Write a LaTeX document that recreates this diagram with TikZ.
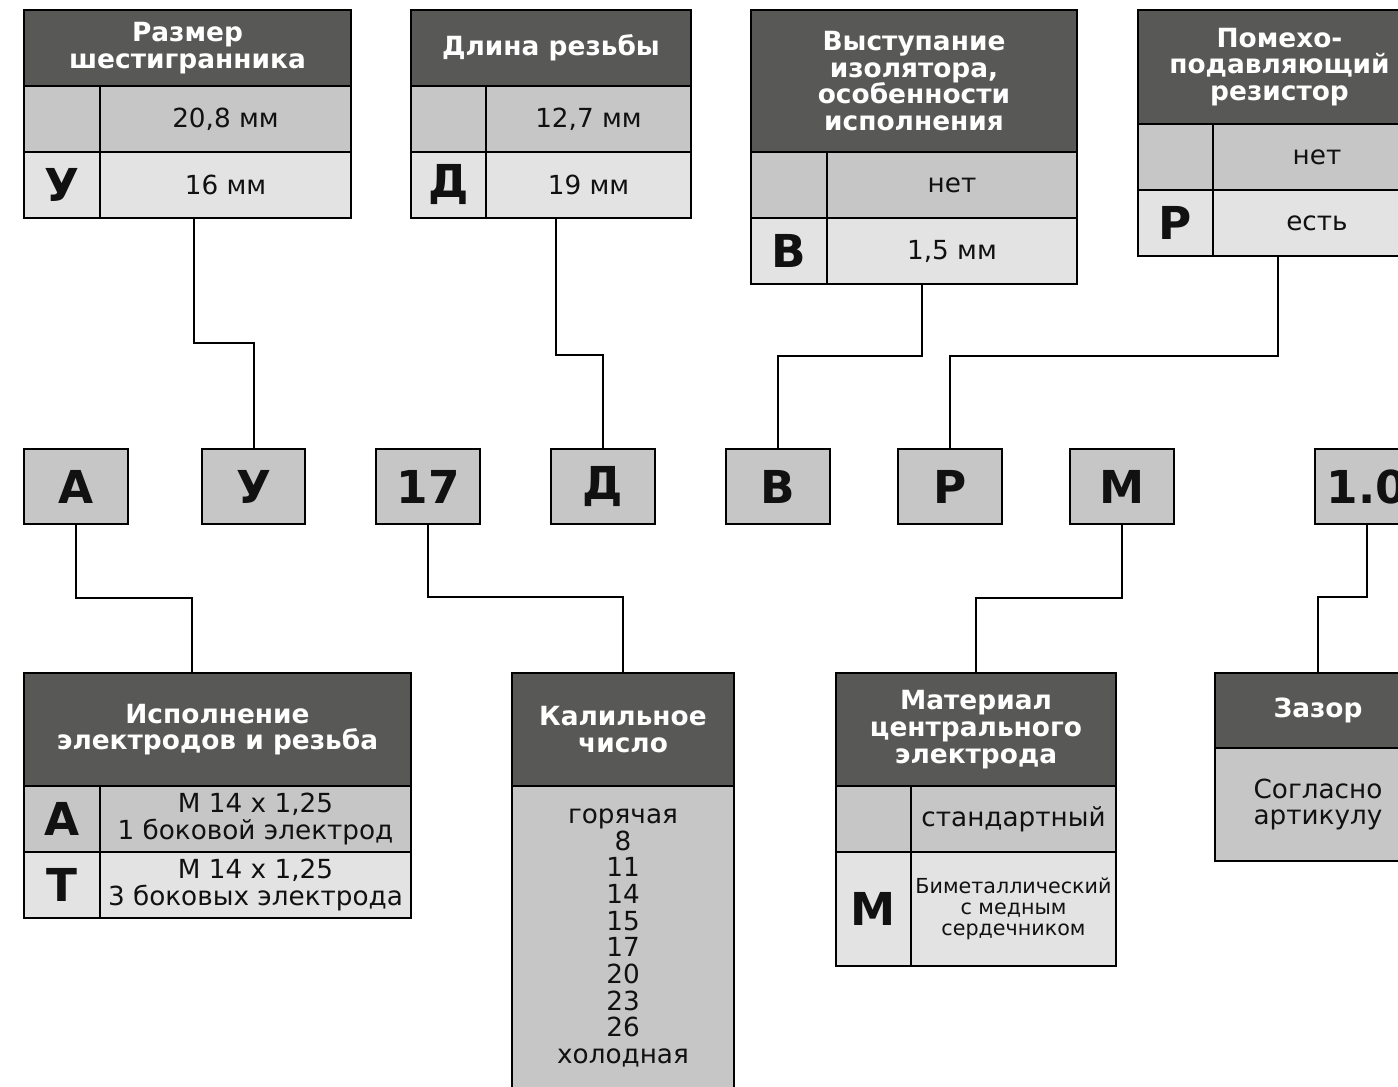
\documentclass[tikz,border=0pt]{standalone}
\usepackage{fontspec}
\setmainfont{DejaVu Sans}
\definecolor{hdrgray}{RGB}{88,88,87}
\definecolor{rowgray}{RGB}{198,198,198}
\definecolor{rowlight}{RGB}{227,227,227}
\definecolor{inkc}{RGB}{17,17,17}
\newcommand\bodyfnt{\fontsize{19.7}{20}\selectfont}
\newcommand\hdrfnt{\fontsize{19.8}{20}\selectfont\bfseries}
\newcommand\bigfnt{\fontsize{34}{36}\selectfont\bfseries}
\newcommand\smallfnt{\fontsize{15.5}{15.75}\selectfont}
\newcommand{\cellbox}[7]{%
  \pgfmathsetmacro{\cbx}{(#2+#4)/2}\pgfmathsetmacro{\cby}{(#3+#5)/2}%
  \pgfmathsetmacro{\cbw}{(#4-#2)*0.75}\pgfmathsetmacro{\cbh}{(#5-#3)*0.75}%
  \node[#6, minimum width=\cbw pt, minimum height=\cbh pt] (#1) at (\cbx,\cby) {#7};}
\tikzset{
  cell/.style={draw=black, line width=2pt, inner sep=0pt, align=center, text=inkc, font=\bodyfnt},
  hdr/.style={cell, fill=hdrgray, text=white, font=\hdrfnt},
  rowa/.style={cell, fill=rowgray},
  rowb/.style={cell, fill=rowlight},
  codea/.style={rowa, font=\bigfnt},
  codeb/.style={rowb, font=\bigfnt},
  conn/.style={draw=black, line width=1.5pt},
}
\begin{document}
\begin{tikzpicture}[x=0.75pt, y=-0.75pt]
\useasboundingbox (0,0) rectangle (1398,1086);
\clip (0,0) rectangle (1398,1086);
\fill[white] (0,0) rectangle (1398,1086);
% ---- top tables
\cellbox{t1h}{24}{10}{351}{86}{hdr}{Размер\\шестигранника}
\cellbox{t1a1}{24}{86}{100}{152}{rowa}{}
\cellbox{t1b1}{100}{86}{351}{152}{rowa}{20,8 мм}
\cellbox{t1a2}{24}{152}{100}{218}{codeb}{У}
\cellbox{t1b2}{100}{152}{351}{218}{rowb}{16 мм}

\cellbox{t2h}{411}{10}{691}{86}{hdr}{Длина резьбы}
\cellbox{t2a1}{411}{86}{486}{152}{rowa}{}
\cellbox{t2b1}{486}{86}{691}{152}{rowa}{12,7 мм}
\cellbox{t2a2}{411}{152}{486}{218}{codeb}{Д}
\cellbox{t2b2}{486}{152}{691}{218}{rowb}{19 мм}

\cellbox{t3h}{751}{10}{1077}{152}{hdr}{Выступание\\изолятора,\\особенности\\исполнения}
\cellbox{t3a1}{751}{152}{827}{218}{rowa}{}
\cellbox{t3b1}{827}{152}{1077}{218}{rowa}{нет}
\cellbox{t3a2}{751}{218}{827}{284}{codeb}{В}
\cellbox{t3b2}{827}{218}{1077}{284}{rowb}{1,5 мм}

\cellbox{t4h}{1138}{10}{1421}{124}{hdr}{Помехо-\\подавляющий\\резистор}
\cellbox{t4a1}{1138}{124}{1213}{190}{rowa}{}
\cellbox{t4b1}{1213}{124}{1421}{190}{rowa}{нет}
\cellbox{t4a2}{1138}{190}{1213}{256}{codeb}{Р}
\cellbox{t4b2}{1213}{190}{1421}{256}{rowb}{есть}
% ---- code boxes
\cellbox{mA}{24}{449}{128}{524}{codea}{А}
\cellbox{mU}{202}{449}{305}{524}{codea}{У}
\cellbox{m17}{376}{449}{480}{524}{codea}{17}
\cellbox{mD}{551}{449}{655}{524}{codea}{Д}
\cellbox{mV}{726}{449}{830}{524}{codea}{В}
\cellbox{mR}{898}{449}{1002}{524}{codea}{Р}
\cellbox{mM}{1070}{449}{1174}{524}{codea}{М}
\cellbox{mG}{1315}{449}{1419}{524}{codea}{1.0}
% ---- bottom tables
\cellbox{b1h}{24}{673}{411}{786}{hdr}{Исполнение\\электродов и резьба}
\cellbox{b1a1}{24}{786}{100}{852}{codea}{А}
\cellbox{b1b1}{100}{786}{411}{852}{rowa}{М 14 х 1,25\\1 боковой электрод}
\cellbox{b1a2}{24}{852}{100}{918}{codeb}{Т}
\cellbox{b1b2}{100}{852}{411}{918}{rowb}{М 14 х 1,25\\3 боковых электрода}

\cellbox{b2h}{512}{673}{734}{786}{hdr}{Калильное\\число}
\cellbox{b2b}{512}{786}{734}{1090}{rowa}{горячая\\8\\11\\14\\15\\17\\20\\23\\26\\холодная}

\cellbox{b3h}{836}{673}{1116}{786}{hdr}{Материал\\центрального\\электрода}
\cellbox{b3a1}{836}{786}{911}{852}{rowa}{}
\cellbox{b3b1}{911}{786}{1116}{852}{rowa}{стандартный}
\cellbox{b3a2}{836}{852}{911}{966}{codeb}{М}
\cellbox{b3b2}{911}{852}{1116}{966}{rowb, font=\smallfnt}{Биметаллический\\с медным\\сердечником}

\cellbox{b4h}{1215}{673}{1421}{748}{hdr}{Зазор}
\cellbox{b4b}{1215}{748}{1421}{861}{rowa}{Согласно\\артикулу}
% ---- connectors
\coordinate (c1) at (194,343);
\coordinate (c2) at (556,355);
\coordinate (c3) at (922,356);
\coordinate (c4) at (1278,356);
\draw[conn] (t1b2.south -| c1) -- (c1) -| (mU.north);
\draw[conn] (t2b2.south -| c2) -- (c2) -| (mD.north);
\draw[conn] (t3b2.south -| c3) -- (c3) -| (mV.north);
\draw[conn] (t4b2.south -| c4) -- (c4) -| (mR.north);
\coordinate (c5) at (192,598);
\coordinate (c6) at (623,597);
\coordinate (c7) at (976,598);
\coordinate (c8) at (1318,597);
\draw[conn] (mA.south) |- (c5) -- (b1h.north -| c5);
\draw[conn] (m17.south) |- (c6) -- (b2h.north -| c6);
\draw[conn] (mM.south) |- (c7) -- (b3h.north -| c7);
\draw[conn] (mG.south) |- (c8) -- (b4h.north -| c8);
\end{tikzpicture}
\end{document}
